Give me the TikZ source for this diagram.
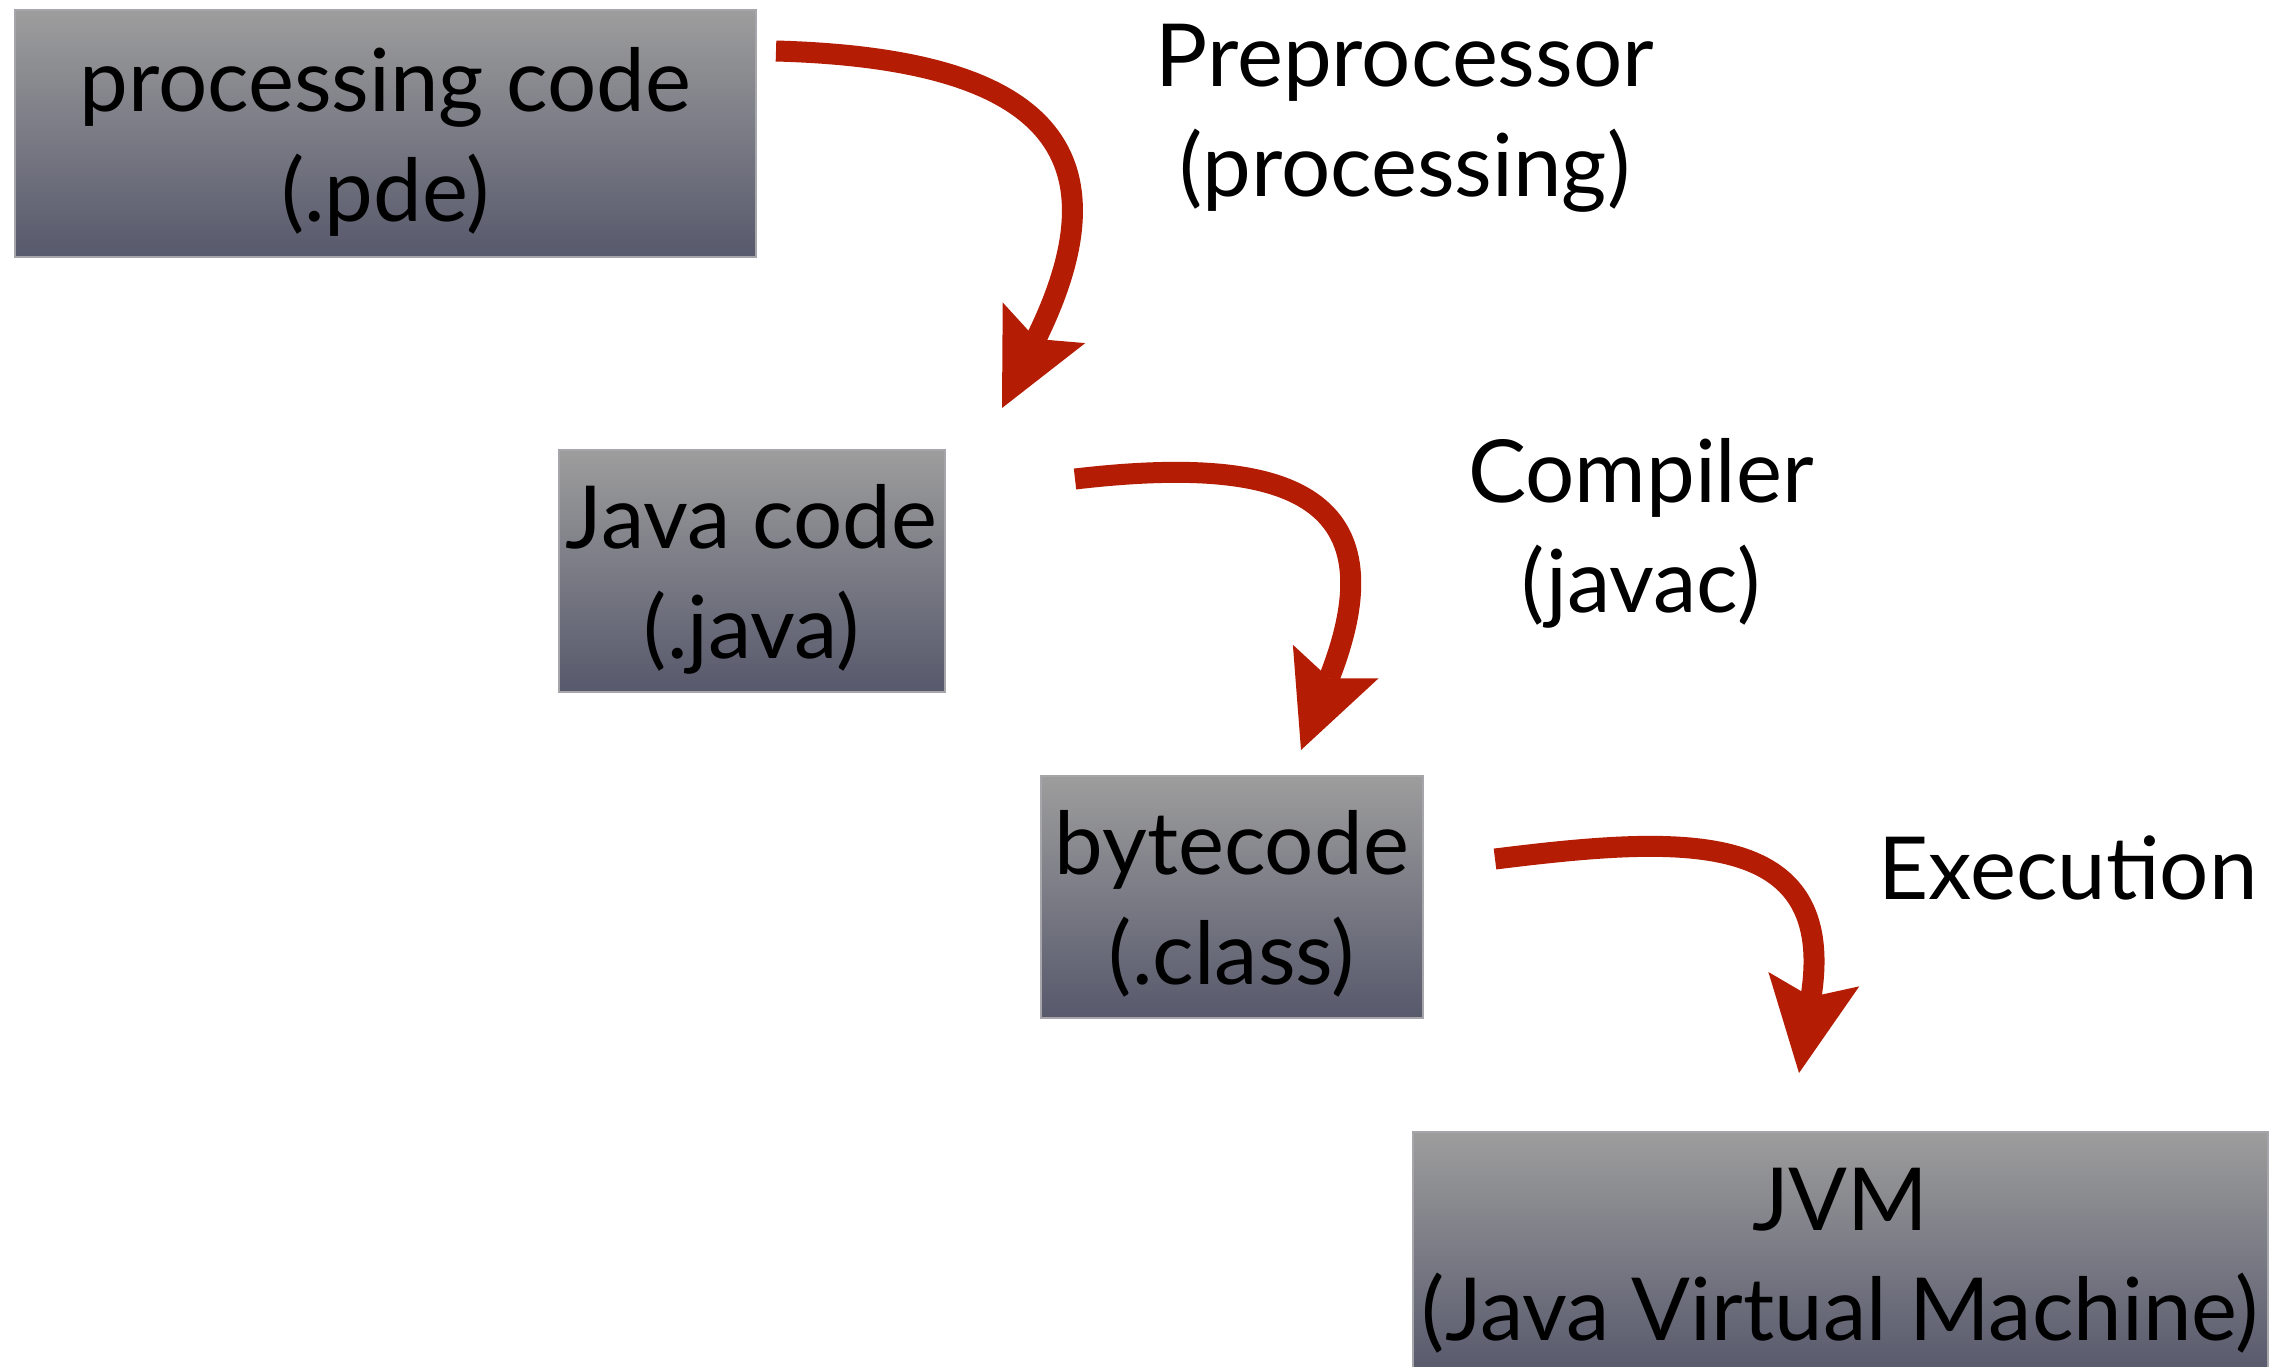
\documentclass[tikz,border=0pt]{standalone}
\usepackage{fontspec}
\setmainfont{Lato}
\usetikzlibrary{arrows.meta}
\definecolor{boxtop}{RGB}{157,157,157}
\definecolor{boxbot}{RGB}{87,89,108}
\definecolor{boxedge}{RGB}{165,165,170}
\definecolor{arrowred}{RGB}{180,28,4}
\newcommand\boxtext[1]{\raisebox{0pt}[\dimexpr\height+22pt\relax][\depth]{\begin{tabular}{@{}c@{}}#1\end{tabular}}}
\begin{document}
\begin{tikzpicture}[x=1pt,y=-1pt,
  box/.style={draw=boxedge, line width=1.5pt, shading=axis, top color=boxtop, bottom color=boxbot,
    anchor=north west, inner sep=0pt, text=black,
    font=\fontsize{87}{110}\selectfont},
  lbl/.style={align=center, inner sep=0pt, text=black, font=\fontsize{87}{110}\selectfont},
  flow/.style={draw=arrowred, line width=21pt,
    -{Stealth[length=95pt,width=92pt,inset=18pt,line width=0pt]}}]
\useasboundingbox (0,0) rectangle (2271,1366);
\fill[white] (0,0) rectangle (2271,1366);
\clip (0,0) rectangle (2271,1366);

\node[box, minimum width=741pt, minimum height=247pt] (b1) at (14,9) {\boxtext{processing code\\(.pde)}};
\node[box, minimum width=386pt, minimum height=242pt] (b2) at (558,449) {\boxtext{Java code\\(.java)}};
\node[box, minimum width=382pt, minimum height=240pt] (b3) at (1040,775) {\boxtext{bytecode\\(.class)}};
\node[box, minimum width=855pt, minimum height=242pt] (b4) at (1412,1131) {\boxtext{JVM\\(Java Virtual Machine)}};

\node[lbl] (pre) at (1405,118) {Preprocessor\\(processing)};
\node[lbl] (comp) at (1641,533) {Compiler\\(javac)};
\node[lbl] (exe) at (2068,868) {Execution};

\coordinate (s1) at (776,51);
\coordinate (t1) at (1002,408);
\coordinate (s2) at (1075,479);
\coordinate (t2) at (1301,750);
\coordinate (s3) at (1495,859);
\coordinate (t3) at (1799,1073);

\draw[flow] (s1) .. controls (1030,58) and (1134,140) .. (t1);
\draw[flow] (s2) .. controls (1280,455) and (1403,490) .. (t2);
\draw[flow] (s3) .. controls (1680,836) and (1838,826) .. (t3);
\end{tikzpicture}
\end{document}
